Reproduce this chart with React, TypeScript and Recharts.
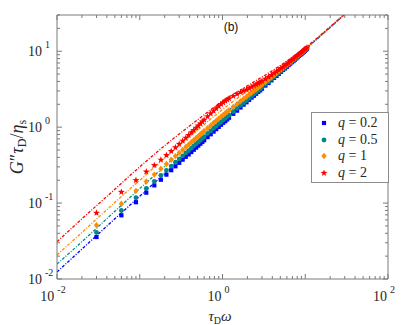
import React from 'react';
import { ComposedChart, Line, Scatter, XAxis, YAxis } from 'recharts';

// ---------- data ----------
const markerX = [
  0.03, 0.06, 0.09, 0.12, 0.15, 0.18, 0.21, 0.24, 0.27, 0.3, 0.33, 0.36, 0.39, 0.42, 0.45, 0.48, 0.51, 0.54, 0.57, 0.6,
  0.66, 0.72, 0.78, 0.84, 0.9, 0.96, 1.02, 1.08, 1.14, 1.2,
  1.35, 1.5, 1.65, 1.8, 1.95, 2.1, 2.25, 2.4, 2.55, 2.7, 2.85, 3.0,
  3.3, 3.6, 3.9, 4.2, 4.5, 4.8, 5.1, 5.4, 5.7, 6.0, 6.3, 6.6, 6.9, 7.2, 7.5, 7.8, 8.1, 8.4, 8.7, 9.0, 9.3, 9.6, 9.9, 10.2, 10.5,
];
const q02Markers = [
  0.0357, 0.069, 0.1026, 0.137, 0.171, 0.203, 0.237, 0.271, 0.305, 0.339, 0.373, 0.407, 0.437, 0.47, 0.504, 0.538, 0.571, 0.605, 0.638, 0.672,
  0.739, 0.806, 0.874, 0.941, 1.008, 1.075, 1.142, 1.199, 1.265, 1.332,
  1.499, 1.65, 1.815, 1.98, 2.126, 2.289, 2.453, 2.592, 2.754, 2.916, 3.05, 3.21,
  3.531, 3.816, 4.134, 4.452, 4.725, 5.04, 5.355, 5.67, 5.928, 6.24, 6.552, 6.864, 7.176, 7.416, 7.725, 8.034, 8.343, 8.652, 8.961, 9.18, 9.486, 9.792, 10.1, 10.4, 10.71,
];
const q05Markers = [
  0.0411, 0.0798, 0.1179, 0.156, 0.1935, 0.2322, 0.2688, 0.3072, 0.3456, 0.381, 0.4191, 0.4572, 0.4914, 0.5292, 0.567, 0.6048, 0.6375, 0.675, 0.7125, 0.75,
  0.825, 0.8928, 0.9672, 1.033, 1.107, 1.171, 1.244, 1.307, 1.379, 1.44,
  1.607, 1.77, 1.931, 2.088, 2.243, 2.415, 2.565, 2.736, 2.882, 3.051, 3.192, 3.36,
  3.663, 3.96, 4.29, 4.578, 4.905, 5.184, 5.508, 5.778, 6.099, 6.42, 6.678, 6.996, 7.314, 7.56, 7.875, 8.19, 8.505, 8.736, 9.048, 9.36, 9.672, 9.888, 10.2, 10.51, 10.82,
];
const q1Markers = [
  0.051, 0.0978, 0.1449, 0.192, 0.237, 0.2826, 0.3276, 0.372, 0.4158, 0.459, 0.5016, 0.5472, 0.5889, 0.6342, 0.675, 0.72, 0.7599, 0.8046, 0.8436, 0.888,
  0.9702, 1.051, 1.139, 1.218, 1.296, 1.373, 1.448, 1.523, 1.596, 1.668,
  1.85, 2.025, 2.195, 2.358, 2.516, 2.688, 2.835, 3.0, 3.162, 3.321, 3.477, 3.63,
  3.927, 4.248, 4.563, 4.872, 5.175, 5.472, 5.763, 6.048, 6.327, 6.66, 6.93, 7.194, 7.521, 7.776, 8.1, 8.346, 8.667, 8.904, 9.222, 9.54, 9.765, 10.08, 10.4, 10.61, 10.92,
];
const q2Markers = [
  0.0741, 0.1398, 0.1998, 0.2592, 0.315, 0.3708, 0.4263, 0.4824, 0.54, 0.6, 0.66, 0.72, 0.7839, 0.8484, 0.9135, 0.9792, 1.046, 1.112, 1.18, 1.248,
  1.379, 1.512, 1.638, 1.764, 1.89, 2.006, 2.111, 2.214, 2.303, 2.388,
  2.565, 2.73, 2.871, 3.006, 3.12, 3.255, 3.375, 3.504, 3.647, 3.78, 3.905, 4.05,
  4.323, 4.572, 4.836, 5.124, 5.4, 5.664, 5.967, 6.21, 6.498, 6.78, 7.056, 7.392, 7.659, 7.92, 8.25, 8.502, 8.829, 9.072, 9.396, 9.72, 9.951, 10.27, 10.59, 10.81, 11.13,
];

const lineX = [0.01, 0.02, 0.05, 0.1, 0.2, 0.5, 1, 2, 5, 10, 20, 40];
const q02Line = [0.0124, 0.0248, 0.062, 0.123, 0.245, 0.6, 1.2, 2.4, 5.6, 10.6, 20.6, 40.6];
const q05Line = [0.0157, 0.031, 0.078, 0.155, 0.305, 0.74, 1.42, 2.65, 5.8, 10.7, 20.7, 40.7];
const q1Line = [0.0207, 0.041, 0.102, 0.2, 0.39, 0.92, 1.7, 3.0, 6.0, 10.8, 20.8, 40.8];
const q2Line = [0.031, 0.062, 0.152, 0.3, 0.57, 1.25, 2.2, 3.5, 6.5, 11.1, 21, 41];

const seriesNames = ['q = 0.2', 'q = 0.5', 'q = 1', 'q = 2'];
const qValues = ['0.2', '0.5', '1', '2'];
const colors = ['#0000ff', '#00898a', '#ff8c00', '#ff0000'];

const xLabeledTicks = [0.01, 1, 100];
const xLabelExp = ['-2', '0', '2'];
const yLabeledTicks = [0.01, 0.1, 1, 10];
const yLabelExp = ['-2', '-1', '0', '1'];

// ---------- geometry ----------
const W = 407;
const H = 325;
const MARGIN = { top: 14, right: 18, bottom: 45, left: 56 };
const AXIS = '#7a7a7a';
const TEXT = '#262626';
const SERIF = '"Liberation Serif", "DejaVu Serif", serif';

const buildTicks = (lo: number, hi: number) => {
  const out: number[] = [];
  for (let e = lo; e < hi; e++) {
    for (let m = 1; m < 10; m++) out.push(+(m * Math.pow(10, e)).toPrecision(3));
  }
  out.push(Math.pow(10, hi));
  return out;
};
const xTicks = buildTicks(-2, 2);
const yTicks = buildTicks(-2, 1).concat([20, 30]);

const isMajor = (v: number) => Math.abs(Math.log10(v) - Math.round(Math.log10(v))) < 1e-6;

const zip = (xs: number[], ys: number[]) => xs.map((x, i) => ({ x, y: ys[i] }));
const markerSets = [q02Markers, q05Markers, q1Markers, q2Markers].map((ys) => zip(markerX, ys));
const lineSets = [q02Line, q05Line, q1Line, q2Line].map((ys) => zip(lineX, ys));

// ---------- ticks ----------
const BottomTick = (props: any) => {
  const { x, y, payload } = props;
  const v = payload.value;
  const len = isMajor(v) ? 5 : 3;
  const li = xLabeledTicks.findIndex((t) => Math.abs(t - v) < 1e-9);
  return (
    <g>
      <line x1={x} x2={x} y1={y} y2={y - len} stroke={AXIS} strokeWidth={1} />
      {li >= 0 && (
        <text x={x - 4} y={y + 22} textAnchor="middle" fontFamily={SERIF} fontSize={14} fill={TEXT}>
          10
          <tspan dx={3} dy={-8} fontSize={10}>{xLabelExp[li]}</tspan>
        </text>
      )}
    </g>
  );
};
const TopTick = (props: any) => {
  const { x, y, payload } = props;
  const len = isMajor(payload.value) ? 5 : 3;
  return <line x1={x} x2={x} y1={y} y2={y + len} stroke={AXIS} strokeWidth={1} />;
};
const LeftTick = (props: any) => {
  const { x, y, payload } = props;
  const v = payload.value;
  const len = isMajor(v) ? 5 : 3;
  const li = yLabeledTicks.findIndex((t) => Math.abs(t - v) < 1e-9);
  return (
    <g>
      <line x1={x} x2={x + len} y1={y} y2={y} stroke={AXIS} strokeWidth={1} />
      {li >= 0 && (
        <text x={x - 29} y={y + 5} textAnchor="start" fontFamily={SERIF} fontSize={14} fill={TEXT}>
          10
          <tspan dx={3} dy={-8} fontSize={10}>{yLabelExp[li]}</tspan>
        </text>
      )}
    </g>
  );
};
const RightTick = (props: any) => {
  const { x, y, payload } = props;
  const len = isMajor(payload.value) ? 5 : 3;
  return <line x1={x} x2={x - len} y1={y} y2={y} stroke={AXIS} strokeWidth={1} />;
};

// ---------- marker shapes ----------
const starPath = (cx: number, cy: number, R: number, r: number) => {
  let d = '';
  for (let i = 0; i < 10; i++) {
    const rad = i % 2 === 0 ? R : r;
    const a = -Math.PI / 2 + (i * Math.PI) / 5;
    d += (i === 0 ? 'M' : 'L') + (cx + rad * Math.cos(a)).toFixed(2) + ',' + (cy + rad * Math.sin(a)).toFixed(2);
  }
  return d + 'Z';
};
const MarkerGlyph = ({ i, cx, cy }: { i: number; cx: number; cy: number }) => {
  const c = colors[i];
  if (i === 0) return <rect x={cx - 2.1} y={cy - 2.1} width={4.2} height={4.2} fill={c} />;
  if (i === 1) return <circle cx={cx} cy={cy} r={2.4} fill={c} />;
  if (i === 2) return <path d={`M${cx},${cy - 3.2}L${cx + 2.6},${cy}L${cx},${cy + 3.2}L${cx - 2.6},${cy}Z`} fill={c} />;
  return <path d={starPath(cx, cy, 3.6, 1.5)} fill={c} />;
};
const shapeFor = (i: number) => (p: any) => <MarkerGlyph i={i} cx={p.cx} cy={p.cy} />;

const LegendBox = () => (
  <div
    style={{
      position: 'absolute',
      left: 311,
      top: 112,
      width: 78,
      height: 71,
      border: '1px solid #8c8c8c',
      background: '#fff',
      boxSizing: 'border-box',
    }}
  >
    {qValues.map((q, i) => (
      <div key={seriesNames[i]} style={{ position: 'absolute', left: 0, top: 2 + i * 16.7, height: 16, width: 76 }}>
        <svg width={20} height={16} style={{ position: 'absolute', left: 4, top: 0 }}>
          <MarkerGlyph i={i} cx={8} cy={8} />
        </svg>
        <span
          style={{
            position: 'absolute',
            left: 26,
            top: 0,
            fontFamily: SERIF,
            fontSize: 14,
            lineHeight: '16px',
            color: TEXT,
            whiteSpace: 'nowrap',
          }}
        >
          <i>q</i> = {q}
        </span>
      </div>
    ))}
  </div>
);

const xLabelContent = () => (
  <text x={220} y={321} textAnchor="middle" fontFamily={SERIF} fontSize={15} fill={TEXT}>
    <tspan fontStyle="italic">τ</tspan>
    <tspan fontSize={10} dy={3}>D</tspan>
    <tspan fontStyle="italic" dy={-3}>ω</tspan>
  </text>
);
const yLabelContent = () => (
  <text
    x={0}
    y={0}
    transform="translate(23,147) rotate(-90)"
    textAnchor="middle"
    fontFamily={SERIF}
    fontSize={18}
    fill={TEXT}
  >
    <tspan fontStyle="italic">G</tspan>
    <tspan>″</tspan>
    <tspan fontStyle="italic">τ</tspan>
    <tspan fontSize={12} dy={3}>D</tspan>
    <tspan dy={-3}>/</tspan>
    <tspan fontStyle="italic">η</tspan>
    <tspan fontSize={12} dy={3}>s</tspan>
  </text>
);
const titleContent = () => (
  <text x={231} y={31} textAnchor="middle" fontFamily='"Liberation Sans", Arial, sans-serif' fontSize={12} fill="#111">
    (b)
  </text>
);

export default function App() {
  return (
    <div style={{ position: 'absolute', left: 0, top: 0, width: W, height: H, background: '#fff' }}>
      <ComposedChart width={W} height={H} margin={MARGIN}>
        <XAxis
          xAxisId="b"
          dataKey="x"
          type="number"
          scale="log"
          domain={[0.01, 100]}
          allowDataOverflow
          ticks={xTicks}
          interval={0}
          tick={<BottomTick />}
          tickSize={0}
          tickMargin={0}
          height={1}
          axisLine={{ stroke: AXIS }}
          label={{ content: xLabelContent }}
        />
        <XAxis
          xAxisId="t"
          orientation="top"
          dataKey="x"
          type="number"
          scale="log"
          domain={[0.01, 100]}
          allowDataOverflow
          ticks={xTicks}
          interval={0}
          tick={<TopTick />}
          tickSize={0}
          tickMargin={0}
          height={1}
          axisLine={{ stroke: AXIS }}
          label={{ content: titleContent }}
        />
        <YAxis
          yAxisId="l"
          dataKey="y"
          type="number"
          scale="log"
          domain={[0.01, 30]}
          allowDataOverflow
          ticks={yTicks}
          interval={0}
          tick={<LeftTick />}
          tickSize={0}
          tickMargin={0}
          width={1}
          axisLine={{ stroke: AXIS }}
          label={{ content: yLabelContent }}
        />
        <YAxis
          yAxisId="r"
          orientation="right"
          dataKey="y"
          type="number"
          scale="log"
          domain={[0.01, 30]}
          allowDataOverflow
          ticks={yTicks}
          interval={0}
          tick={<RightTick />}
          tickSize={0}
          tickMargin={0}
          width={1}
          axisLine={{ stroke: AXIS }}
        />
        {lineSets.map((d, i) => (
          <Line
            key={'l' + i}
            xAxisId="b"
            yAxisId="l"
            data={d}
            dataKey="y"
            type="monotone"
            stroke={colors[i]}
            strokeWidth={1.3}
            strokeDasharray="3 1.5 1 1.5"
            dot={false}
            isAnimationActive={false}
          />
        ))}
        {markerSets.map((d, i) => (
          <Scatter
            key={'s' + i}
            xAxisId="b"
            yAxisId="l"
            data={d}
            dataKey="y"
            name={seriesNames[i]}
            fill={colors[i]}
            shape={shapeFor(i)}
            isAnimationActive={false}
          />
        ))}
      </ComposedChart>
      <LegendBox />
    </div>
  );
}
